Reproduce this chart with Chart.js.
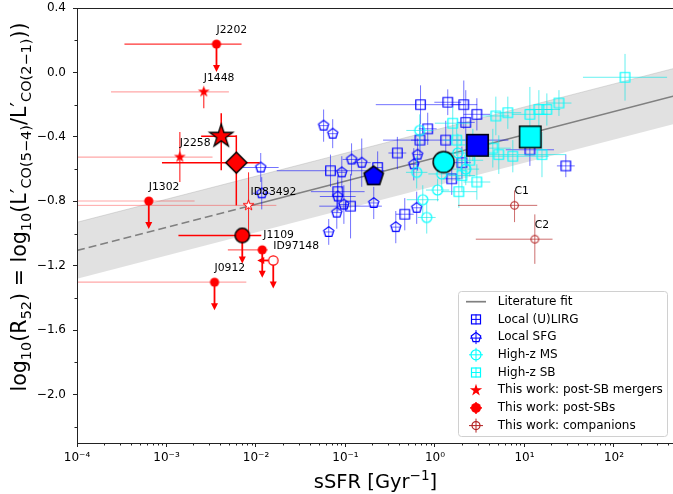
<!DOCTYPE html>
<html>
<head>
<meta charset="utf-8">
<script src="https://cdn.jsdelivr.net/npm/chart.js@4.4.1/dist/chart.umd.min.js"></script>
<style>
  html, body { margin: 0; padding: 0; background: #fff; overflow: hidden; }
  #wrap { width: 673px; height: 494px; overflow: hidden; }
</style>
</head>
<body>
<div id="wrap"><canvas id="r52Chart" width="680" height="494" style="width:680px;height:494px"></canvas></div>
<script>
// ---- axes ----
const xTickVals = [1e-4, 1e-3, 1e-2, 1e-1, 1, 10, 100];
const xTickLabels = ['10⁻⁴', '10⁻³', '10⁻²', '10⁻¹', '10⁰', '10¹', '10²'];
const yTickVals = [0.4, 0.0, -0.4, -0.8, -1.2, -1.6, -2.0];
const yTickLabels = ['0.4', '0.0', '−0.4', '−0.8', '−1.2', '−1.6', '−2.0'];
const yMinorVals = [0.2, -0.2, -0.6, -1.0, -1.4, -1.8, -2.2];

// ---- literature fit + scatter band ----
const fitX = [1e-4, 0.01, 469];
const fitY = [-1.105, -0.818, -0.146];
const bandX = [1e-4, 469];
const bandUpper = [-0.93, 0.025];
const bandLower = [-1.28, -0.32];

// ---- comparison samples (x = sSFR, y = log R52, errors in dex) ----
const ulirgX = [0.69, 1.39, 2.10, 2.94, 0.83, 2.21, 0.68, 1.32, 0.38, 0.068, 0.082, 0.114, 0.229, 0.46, 1.54, 29, 11.5, 2.0];
const ulirgY = [-0.20, -0.185, -0.20, -0.26, -0.35, -0.31, -0.42, -0.42, -0.50, -0.61, -0.74, -0.83, -0.59, -0.88, -0.66, -0.58, -0.48, -0.56];
const ulirgXErr = [0.5, 0.15, 0.15, 0.15, 0.1, 0.1, 0.1, 0.7, 0.1, 0.6, 0.3, 0.35, 0.05, 0.1, 0.1, 0.1, 0.27, 0.1];
const ulirgYErr = [0.12, 0.08, 0.15, 0.1, 0.1, 0.2, 0.1, 0.12, 0.1, 0.1, 0.1, 0.2, 0.1, 0.1, 0.1, 0.07, 0.1, 0.1];

const sfgX = [0.0113, 0.0116, 0.057, 0.072, 0.117, 0.152, 0.091, 0.082, 0.096, 0.080, 0.207, 0.065, 0.365, 0.58, 0.64, 0.625];
const sfgY = [-0.59, -0.75, -0.33, -0.38, -0.54, -0.56, -0.62, -0.77, -0.82, -0.87, -0.81, -0.99, -0.96, -0.57, -0.51, -0.84];
const sfgXErr = [0.2, 0.1, 0.05, 0.05, 0.1, 0.1, 0.05, 0.2, 0.05, 0.05, 0.05, 0.05, 0.05, 0.05, 0.05, 0.05];
const sfgYErr = [0.09, 0.1, 0.1, 0.09, 0.1, 0.15, 0.1, 0.1, 0.12, 0.1, 0.1, 0.08, 0.1, 0.1, 0.1, 0.1];

const msX = [0.676, 0.625, 1.07, 0.731, 0.809, 1.19, 1.80, 2.21, 2.65];
const msY = [-0.36, -0.62, -0.73, -0.79, -0.90, -0.63, -0.50, -0.60, -0.45];
const msXErr = [0.15, 0.12, 0.13, 0.18, 0.1, 0.15, 0.15, 0.15, 0.15];
const msYErr = [0.1, 0.1, 0.07, 0.09, 0.1, 0.1, 0.12, 0.1, 0.1];

const sbX = [1.58, 4.79, 6.52, 11.5, 14.5, 17.8, 24.3, 133, 4.43, 5.17, 7.41, 15.7, 2.94, 1.85, 1.75, 2.45, 2.0];
const sbY = [-0.315, -0.27, -0.25, -0.26, -0.23, -0.23, -0.19, -0.03, -0.47, -0.51, -0.52, -0.51, -0.68, -0.74, -0.42, -0.545, -0.64];
const sbXErr = [0.2, 0.15, 0.15, 0.2, 0.15, 0.15, 0.14, 0.47, 0.2, 0.2, 0.4, 0.27, 0.15, 0.2, 0.15, 0.15, 0.15];
const sbYErr = [0.1, 0.12, 0.1, 0.17, 0.12, 0.1, 0.08, 0.145, 0.12, 0.12, 0.1, 0.14, 0.11, 0.1, 0.1, 0.1, 0.1];

// sample means: (U)LIRG, SFG, high-z MS, high-z SB
const meanX = [2.99, 0.2065, 1.25, 11.6];
const meanY = [-0.452, -0.645, -0.556, -0.40];

// ---- this work ----
const postSbNames = ['J2202', 'J1302', 'J0912', ''];
const postSbX = [0.00362, 0.000634, 0.00344, 0.01175];
const postSbY = [0.176, -0.798, -1.302, -1.101];
const postSbXLo = [0.000339, 0.00003, 0.00003, 0.00485];
const postSbXHi = [0.0069, 0.00206, 0.0078, 0.0135];

const j1109X = [0.00703];
const j1109Y = [-1.012];
const j1109XLo = [0.00136];
const j1109XHi = [0.01146];

const id97148X = [0.0156];
const id97148Y = [-1.167];

const mergerNames = ['J1448', 'J2258'];
const mergerX = [0.00261, 0.00141];
const mergerY = [-0.12, -0.525];
const mergerXLo = [0.00024, 0.00003];
const mergerXHi = [0.00498, 0.00327];
const mergerYLo = [-0.222, -0.68];
const mergerYHi = [-0.0975, -0.369];

const id83492X = [0.00826];
const id83492Y = [-0.825];
const id83492XLo = [0.00003];
const id83492XHi = [0.0169];
const id83492YLo = [-1.012];
const id83492YHi = [-0.62];

const mergerMeanX = [0.00409], mergerMeanY = [-0.396];
const mergerMeanXLo = [0.00244], mergerMeanXHi = [0.00603];
const mergerMeanYLo = [-0.607], mergerMeanYHi = [-0.253];

const diamondX = [0.00603], diamondY = [-0.56];
const diamondXLo = [0.00089], diamondXHi = [0.011];
const diamondYLo = [-0.825], diamondYHi = [-0.39];

const compNames = ['C1', 'C2'];
const compX = [7.75, 13.06];
const compY = [-0.825, -1.035];
const compXLo = [1.81, 2.86];
const compXHi = [13.9, 20.6];
const compYLo = [-0.929, -1.188];
const compYHi = [-0.732, -0.881];

const legendLabels = ['Literature fit', 'Local (U)LIRG', 'Local SFG', 'High-z MS', 'High-z SB',
  'This work: post-SB mergers', 'This work: post-SBs', 'This work: companions'];

// ---- helpers ----
const FONT = '"DejaVu Sans", sans-serif';
const BLUE = '#0000ff', CYAN = '#00ffff', RED = '#ff0000', COMP = '#b22222';

function pts(xs, ys) {
    return xs.map((x, i) => ({ x: x, y: ys[i] }));
}

function symErr(xs, ys, xe, ye, color) {
    return {
        xlo: xs.map((v, i) => v / Math.pow(10, xe[i])),
        xhi: xs.map((v, i) => v * Math.pow(10, xe[i])),
        ylo: ys.map((v, i) => v - ye[i]),
        yhi: ys.map((v, i) => v + ye[i]),
        color: color, width: 1
    };
}

// every marker is a small canvas, so Chart.js does not pad the plot for big point radii
function marker(half, shape, fill, stroke, lw) {
    const s = Math.ceil(2 * half + lw + 4);
    const c = document.createElement('canvas');
    c.width = c.height = s;
    const g = c.getContext('2d');
    g.translate(s / 2, s / 2);
    g.beginPath();
    shape(g, half);
    if (fill) { g.fillStyle = fill; g.fill(); }
    if (stroke) { g.strokeStyle = stroke; g.lineWidth = lw; g.stroke(); }
    return c;
}

function tracePoly(g, n, R, inner) {
    const k = inner ? 2 * n : n;
    g.beginPath();
    for (let i = 0; i < k; i++) {
        const r = (inner && i % 2) ? R * inner : R;
        const t = -Math.PI / 2 + i * Math.PI * 2 / k;
        if (i === 0) g.moveTo(r * Math.cos(t), r * Math.sin(t));
        else g.lineTo(r * Math.cos(t), r * Math.sin(t));
    }
    g.closePath();
}

const square = (g, h) => g.rect(-h, -h, 2 * h, 2 * h);
const circle = (g, h) => g.arc(0, 0, h, 0, Math.PI * 2);
const diamond = (g, h) => { g.moveTo(0, -h); g.lineTo(h, 0); g.lineTo(0, h); g.lineTo(-h, 0); g.closePath(); };
const pentagon = (g, h) => tracePoly(g, 5, h, 0);
const star = (g, h) => tracePoly(g, 5, h, 0.382);

const mk = {
    sqBlue: marker(4.75, square, null, BLUE, 1.2),
    sqCyan: marker(4.75, square, null, CYAN, 1.2),
    pent: marker(5.3, pentagon, null, BLUE, 1.2),
    ringCyan: marker(5, circle, null, CYAN, 1.2),
    bigPent: marker(10.2, pentagon, BLUE, '#000', 1.5),
    bigCirc: marker(10.5, circle, CYAN, '#000', 1.5),
    bigSqBlue: marker(10.7, square, BLUE, '#000', 1.5),
    bigSqCyan: marker(10.7, square, CYAN, '#000', 1.5),
    comp: marker(3.8, circle, null, COMP, 1.1),
    ringRed: marker(4.7, circle, '#ffffff', RED, 1.2),
    dotRed: marker(4.6, circle, RED, null, 0),
    starOpen: marker(5.6, star, '#ffffff', RED, 1),
    starRed: marker(6.2, star, RED, null, 0),
    diamond: marker(10.5, diamond, RED, '#000', 1.5),
    bigStar: marker(12.2, star, RED, '#000', 1.3),
    bigDot: marker(7.2, circle, RED, '#000', 1.5)
};

function pointSet(label, xs, ys, style, extra) {
    return Object.assign({ label: label, data: pts(xs, ys), pointStyle: style, pointRadius: 1, pointHoverRadius: 1 }, extra || {});
}

// ---- datasets, listed bottom to top ----
const datasets = [
    { type: 'line', label: 'band lo', data: pts(bandX, bandLower), showLine: true, borderWidth: 0, pointRadius: 0, fill: false },
    { type: 'line', label: 'band hi', data: pts(bandX, bandUpper), showLine: true, borderWidth: 1, borderColor: 'rgba(160,160,160,0.35)',
      backgroundColor: 'rgba(128,128,128,0.24)', pointRadius: 0, fill: '-1' },
    { type: 'line', label: 'fit dashed', data: pts(fitX.slice(0, 2), fitY.slice(0, 2)), showLine: true,
      borderColor: '#808080', borderWidth: 1.7, borderDash: [8, 4], pointRadius: 0, fill: false },
    { type: 'line', label: 'Literature fit', data: pts(fitX.slice(1), fitY.slice(1)), showLine: true,
      borderColor: '#808080', borderWidth: 1.7, pointRadius: 0, fill: false },
    pointSet('Local (U)LIRG', ulirgX, ulirgY, mk.sqBlue,
        { err: symErr(ulirgX, ulirgY, ulirgXErr, ulirgYErr, 'rgba(0,0,255,0.55)') }),
    pointSet('Local SFG', sfgX, sfgY, mk.pent,
        { err: symErr(sfgX, sfgY, sfgXErr, sfgYErr, 'rgba(0,0,255,0.55)') }),
    pointSet('High-z MS', msX, msY, mk.ringCyan,
        { err: symErr(msX, msY, msXErr, msYErr, 'rgba(0,230,230,0.6)') }),
    pointSet('High-z SB', sbX, sbY, mk.sqCyan,
        { err: symErr(sbX, sbY, sbXErr, sbYErr, 'rgba(0,230,230,0.6)') }),
    pointSet('mean SFG', [meanX[1]], [meanY[1]], mk.bigPent),
    pointSet('mean MS', [meanX[2]], [meanY[2]], mk.bigCirc),
    pointSet('mean ULIRG', [meanX[0]], [meanY[0]], mk.bigSqBlue),
    pointSet('mean SB', [meanX[3]], [meanY[3]], mk.bigSqCyan),
    pointSet('companions', compX, compY, mk.comp, {
        err: { xlo: compXLo, xhi: compXHi, ylo: compYLo, yhi: compYHi, color: 'rgba(178,34,34,0.65)', width: 1 },
        names: compNames, nameOff: [0, -14] }),
    pointSet('ID97148', id97148X, id97148Y, mk.ringRed, {
        err: { color: RED, width: 1, uplim: true, leftlim: true }, names: ['ID97148'], nameOff: [0, -14] }),
    pointSet('post-SBs', postSbX, postSbY, mk.dotRed, {
        err: { xlo: postSbXLo, xhi: postSbXHi, color: RED, width: 1.2, uplim: true,
               xColor: ['rgba(255,0,0,0.8)', 'rgba(255,0,0,0.35)', 'rgba(255,0,0,0.35)', 'rgba(255,0,0,0.6)'] },
        names: postSbNames, nameOff: [0, -14] }),
    pointSet('ID83492', id83492X, id83492Y, mk.starOpen, {
        err: { xlo: id83492XLo, xhi: id83492XHi, ylo: id83492YLo, yhi: id83492YHi, color: 'rgba(255,0,0,0.85)', width: 1,
               xColor: ['rgba(255,0,0,0.35)'] },
        names: ['ID83492'], nameOff: [2, -13] }),
    pointSet('mergers', mergerX, mergerY, mk.starRed, {
        err: { xlo: mergerXLo, xhi: mergerXHi, ylo: mergerYLo, yhi: mergerYHi, color: 'rgba(255,0,0,0.8)', width: 1.2,
               xColor: ['rgba(255,0,0,0.35)', 'rgba(255,0,0,0.35)'] },
        names: mergerNames, nameOff: [0, -14] }),
    pointSet('diamond', diamondX, diamondY, mk.diamond, {
        err: { xlo: diamondXLo, xhi: diamondXHi, ylo: diamondYLo, yhi: diamondYHi, color: RED, width: 1.5 } }),
    pointSet('merger mean', mergerMeanX, mergerMeanY, mk.bigStar, {
        err: { xlo: mergerMeanXLo, xhi: mergerMeanXHi, ylo: mergerMeanYLo, yhi: mergerMeanYHi, color: RED, width: 1.5 } }),
    pointSet('J1109', j1109X, j1109Y, mk.bigDot, {
        err: { xlo: j1109XLo, xhi: j1109XHi, color: RED, width: 1.5, uplim: true },
        names: ['J1109'], nameOff: [21, 0] })
];
datasets.forEach((d, i) => { d.order = datasets.length - i; });

// ---- plugins ----
function seg(ctx, x1, y1, x2, y2) {
    ctx.beginPath();
    ctx.moveTo(x1, y1);
    ctx.lineTo(x2, y2);
    ctx.stroke();
}

function arrow(ctx, x, y, dx, dy) {
    // shaft + filled head, dx/dy = full length
    const len = Math.hypot(dx, dy), ux = dx / len, uy = dy / len;
    ctx.lineWidth = 1.8;
    seg(ctx, x, y, x + dx - ux * 5, y + dy - uy * 5);
    const tx = x + dx, ty = y + dy;
    ctx.beginPath();
    ctx.moveTo(tx, ty);
    ctx.lineTo(tx - ux * 7 - uy * 3.5, ty - uy * 7 + ux * 3.5);
    ctx.lineTo(tx - ux * 7 + uy * 3.5, ty - uy * 7 - ux * 3.5);
    ctx.closePath();
    ctx.fill();
}

const errorBarPlugin = {
    id: 'errorBars',
    beforeDatasetDraw(chart, args) {
        const ds = chart.data.datasets[args.index];
        const e = ds.err;
        if (!e) return;
        const { ctx, chartArea: a } = chart;
        const sx = chart.scales.x, sy = chart.scales.y;
        ctx.save();
        ctx.beginPath();
        ctx.rect(a.left, a.top, a.right - a.left, a.bottom - a.top);
        ctx.clip();
        ds.data.forEach((p, i) => {
            const px = sx.getPixelForValue(p.x), py = sy.getPixelForValue(p.y);
            ctx.lineWidth = e.width;
            if (e.xlo) {
                ctx.strokeStyle = (e.xColor && e.xColor[i]) || e.color;
                seg(ctx, sx.getPixelForValue(e.xlo[i]), py, sx.getPixelForValue(e.xhi[i]), py);
            }
            if (e.ylo) {
                ctx.strokeStyle = e.color;
                seg(ctx, px, sy.getPixelForValue(e.ylo[i]), px, sy.getPixelForValue(e.yhi[i]));
            }
            ctx.strokeStyle = RED;
            ctx.fillStyle = RED;
            if (e.uplim) arrow(ctx, px, py, 0, 28);
            if (e.leftlim) arrow(ctx, px, py, -16, 0);
        });
        ctx.restore();
    }
};

function richText(ctx, parts, x, y, angle) {
    ctx.save();
    ctx.translate(x, y);
    ctx.rotate(angle);
    let w = 0;
    parts.forEach(p => { ctx.font = p[1] + 'px ' + FONT; w += ctx.measureText(p[0]).width; });
    let cx = -w / 2;
    ctx.fillStyle = '#000';
    ctx.textBaseline = 'alphabetic';
    ctx.textAlign = 'left';
    parts.forEach(p => {
        ctx.font = p[1] + 'px ' + FONT;
        ctx.fillText(p[0], cx, p[2]);
        cx += ctx.measureText(p[0]).width;
    });
    ctx.restore();
}

function legendMarker(ctx, i, x, y) {
    ctx.save();
    ctx.lineWidth = 1.2;
    if (i === 0) {
        ctx.strokeStyle = '#808080'; ctx.lineWidth = 1.7;
        seg(ctx, x - 10, y, x + 10, y);
    } else if (i === 1 || i === 4) {
        const c = i === 1 ? BLUE : CYAN;
        ctx.strokeStyle = c;
        ctx.lineWidth = 1;
        seg(ctx, x - 5, y, x + 5, y); seg(ctx, x, y - 5, x, y + 5);
        ctx.lineWidth = 1.2;
        ctx.strokeRect(x - 4.5, y - 4.5, 9, 9);
    } else if (i === 2) {
        ctx.strokeStyle = BLUE;
        ctx.lineWidth = 1;
        seg(ctx, x - 6, y + 1, x + 6, y + 1); seg(ctx, x, y - 7, x, y + 7);
        ctx.translate(x, y + 0.5);
        tracePoly(ctx, 5, 5, 0);
        ctx.lineWidth = 1.2;
        ctx.stroke();
    } else if (i === 3 || i === 7) {
        const c = i === 3 ? CYAN : COMP;
        ctx.strokeStyle = c;
        ctx.lineWidth = 1;
        seg(ctx, x - 7, y, x + 7, y); seg(ctx, x, y - 7, x, y + 7);
        ctx.beginPath(); ctx.arc(x, y, i === 3 ? 5 : 4, 0, Math.PI * 2); ctx.lineWidth = 1.2; ctx.stroke();
    } else if (i === 5) {
        ctx.translate(x, y);
        tracePoly(ctx, 5, 6.5, 0.382);
        ctx.fillStyle = RED; ctx.fill();
    } else if (i === 6) {
        ctx.strokeStyle = RED; ctx.lineWidth = 1.5;
        seg(ctx, x - 6, y, x + 6, y); seg(ctx, x, y - 6, x, y + 6);
        ctx.beginPath(); ctx.arc(x, y, 5, 0, Math.PI * 2); ctx.fillStyle = RED; ctx.fill();
    }
    ctx.restore();
}

const decorPlugin = {
    id: 'decor',
    afterDatasetsDraw(chart) {
        const { ctx } = chart;
        const sx = chart.scales.x, sy = chart.scales.y;
        ctx.save();
        ctx.font = '10.8px ' + FONT;
        ctx.fillStyle = '#000';
        ctx.textBaseline = 'middle';
        ctx.textAlign = 'left';
        chart.data.datasets.forEach(ds => {
            if (!ds.names) return;
            ds.data.forEach((p, i) => {
                if (!ds.names[i]) return;
                ctx.fillText(ds.names[i], sx.getPixelForValue(p.x) + ds.nameOff[0], sy.getPixelForValue(p.y) + ds.nameOff[1]);
            });
        });
        ctx.restore();
    },
    afterDraw(chart) {
        const { ctx, chartArea: a } = chart;
        const sx = chart.scales.x, sy = chart.scales.y;
        ctx.save();
        // frame
        ctx.strokeStyle = '#222';
        ctx.lineWidth = 1;
        ctx.strokeRect(a.left + 0.5, a.top + 0.5, a.right - a.left, a.bottom - a.top);
        // minor ticks
        for (let n = -4; n <= 2; n++) {
            for (let k = 2; k <= 9; k++) {
                const v = k * Math.pow(10, n);
                if (v > sx.max) continue;
                const px = Math.round(sx.getPixelForValue(v)) + 0.5;
                seg(ctx, px, a.bottom, px, a.bottom + 2.5);
            }
        }
        yMinorVals.forEach(v => {
            const py = Math.round(sy.getPixelForValue(v)) + 0.5;
            seg(ctx, a.left - 2.5, py, a.left, py);
        });
        // axis titles
        const S = 19.5, s = 13.6;
        richText(ctx, [['sSFR [Gyr', S, 0], ['−1', s, -8], [']', S, 0]], (a.left + a.right) / 2, 488, 0);
        const T = 20.6, t = 14.5;
        richText(ctx, [['log', T, 0], ['10', t, 4.5], ['(R', T, 0], ['52', t, 4.5], [') = log', T, 0], ['10', t, 4.5],
                       ['(L′', T, 0], ['CO(5−4)', t, 4.5], ['/L′', T, 0], ['CO(2−1)', t, 4.5], ['))', T, 0]],
                 26, 207, -Math.PI / 2);
        // legend
        const lx = 458.5, ly = 291.5, lw = 209, lh = 145;
        ctx.beginPath();
        ctx.roundRect(lx, ly, lw, lh, 3);
        ctx.fillStyle = 'rgba(255,255,255,0.85)';
        ctx.fill();
        ctx.strokeStyle = '#d0d0d0';
        ctx.stroke();
        ctx.font = '12px ' + FONT;
        ctx.textBaseline = 'middle';
        ctx.textAlign = 'left';
        legendLabels.forEach((t, i) => {
            const yy = 301.7 + 17.7 * i;
            legendMarker(ctx, i, 476, yy);
            ctx.fillStyle = '#000';
            ctx.fillText(t, 497.7, yy);
        });
        ctx.restore();
    }
};

Chart.defaults.font.family = FONT;
Chart.defaults.font.size = 12;
Chart.defaults.color = '#000';

const ctx = document.getElementById('r52Chart').getContext('2d');
new Chart(ctx, {
    type: 'scatter',
    data: { datasets: datasets },
    plugins: [errorBarPlugin, decorPlugin],
    options: {
        responsive: false,
        animation: false,
        devicePixelRatio: 1,
        layout: { padding: { top: 8, right: 6, left: 0, bottom: 0 } },
        plugins: { legend: { display: false }, tooltip: { enabled: false } },
        scales: {
            x: {
                type: 'logarithmic',
                min: 1e-4,
                max: 469,
                afterBuildTicks: (scale) => { scale.ticks = xTickVals.map(v => ({ value: v })); },
                afterFit: (scale) => { scale.height = 51; },
                ticks: {
                    autoSkip: false, maxRotation: 0, padding: 4,
                    font: { size: 12 },
                    callback: (v) => xTickLabels[xTickVals.findIndex(t => Math.abs(t - v) / t < 1e-6)] || ''
                },
                grid: { display: true, drawOnChartArea: false, drawTicks: true, tickLength: 4, color: '#222' },
                border: { display: false }
            },
            y: {
                type: 'linear',
                min: -2.3,
                max: 0.4,
                afterBuildTicks: (scale) => { scale.ticks = yTickVals.map(v => ({ value: v })); },
                afterFit: (scale) => { scale.width = 77; },
                ticks: {
                    autoSkip: false, padding: 7,
                    font: { size: 12, lineHeight: 0.1 },
                    callback: (v) => yTickLabels[yTickVals.findIndex(t => Math.abs(t - v) < 1e-6)] || ''
                },
                grid: { display: true, drawOnChartArea: false, drawTicks: true, tickLength: 4, color: '#222' },
                border: { display: false }
            }
        }
    }
});
</script>
</body>
</html>
